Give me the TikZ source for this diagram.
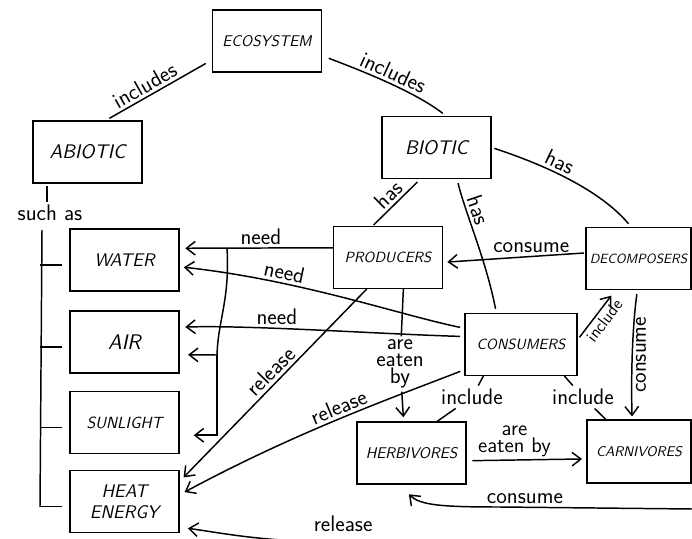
\documentclass[tikz,border=0pt]{standalone}
\usepackage{tikz}
\usetikzlibrary{arrows.meta}

\tikzset{
    concept/.style={draw, inner sep=0pt, minimum width=2.72cm,
        minimum height=1.54cm, align=center,
        font=\sffamily\slshape\fontsize{#1}{#1}\selectfont},
    lbl/.style={inner sep=2pt, align=center,
        font=\sffamily\fontsize{#1}{12}\selectfont},
    lbl/.default=16
}

\begin{document}
\begin{tikzpicture}[x=0.025cm, y=-0.025cm, line width=1.05pt,
    >={Straight Barb[length=2.2mm, width=3.4mm]}]

\useasboundingbox (0,0) rectangle (692,539);
\clip (0,0) rectangle (692,539);

% Concepts
\node[concept=11] (eco) at (267,41) {ECOSYSTEM};
\node[concept=14] (abio) at (87.5,152) {ABIOTIC};
\node[concept=14] (bio) at (436.5,147.5) {BIOTIC};
\node[concept=13] (water) at (124.5,260) {WATER};
\node[concept=15] (air) at (124.5,342) {AIR};
\node[concept=11.5] (sun) at (124.5,422.5) {SUNLIGHT};
\node[concept=13] (heat) at (124.5,501.5) {HEAT\\[2pt]ENERGY};
\node[concept=10.5] (prod) at (388,257.5) {PRODUCERS};
\node[concept=9.5, minimum width=2.62cm] (decomp) at (638.5,258.5) {DECOMPOSERS};
\node[concept=10.5, minimum width=2.8cm] (cons) at (521,344.5) {CONSUMERS};
\node[concept=11] (herb) at (411.5,453) {HERBIVORES};
\node[concept=10, minimum width=2.6cm, minimum height=1.575cm] (carn) at (639,451.5) {CARNIVORES};

% Ecosystem includes
\draw[shorten <=5pt, shorten >=3pt] (eco.-161)
    -- node[lbl, sloped, above, pos=0.58] {includes} (abio.60);
\draw[shorten <=5pt, shorten >=3pt] (eco.-15)
    .. controls (365,72) and (415,92) ..
    node[lbl, sloped, above, pos=0.5] {includes} (bio.73);

% Abiotic such as
\node[lbl] (such) at (50,213) {such as};
\draw[shorten <=2pt] (abio.-142) -- (abio.-142 |- such.north);
\coordinate (brtop) at (42,230);
\coordinate (brbot) at (40,507);
\draw (brtop) -- (brbot);
\foreach \b in {water,air,sun,heat}
    \draw ([shift={(-7,5)}]\b.west) -- ++(-22,0);

% Biotic has
\draw[shorten <=3pt, shorten >=1pt] (bio.-117)
    -- node[lbl, sloped, above] {has} (prod.116);
\draw[shorten <=3pt, shorten >=3pt] (bio.-57)
    .. controls (466,215) and (486,260) ..
    node[lbl, sloped, above, pos=0.3] {has} (cons.128);
\draw[shorten <=2pt, shorten >=3pt] (bio.east)
    .. controls (545,165) and (600,190) ..
    node[lbl, sloped, above, pos=0.4] {has} (decomp.103);

% Producers need
\draw[->, shorten >=4pt] (prod.170)
    -- node[lbl, above, pos=0.47] {need} (water.12);
\coordinate (split) at (227,248);
\coordinate (fork) at (217,355);
\draw (split) .. controls (230,300) and (218,320) .. (fork);
\draw[->, shorten >=6pt] (fork) -- (air.-13);
\draw[->, shorten >=10pt] (fork) |- (sun.-13);

% Consumers need
\draw[->, shorten <=3pt, shorten >=3pt] (cons.164)
    .. controls (400,315) and (300,280) ..
    node[lbl, sloped, above, pos=0.7] {need} (water.-7);
\draw[->, shorten <=3pt, shorten >=4pt] (cons.172)
    .. controls (380,334) and (250,325) ..
    node[lbl, above, pos=0.63] {need} (air.15);

% Release heat energy
\draw[->, shorten >=4pt] (prod.-124)
    -- node[lbl, sloped, above, pos=0.47] {release} (heat.20);
\draw[->, shorten <=3pt, shorten >=4pt] (cons.-156)
    .. controls (400,395) and (300,430) ..
    node[lbl, sloped, above, pos=0.5] {release} (heat.7);
\coordinate (relR) at (692,541);
\draw[->, shorten >=6pt] (relR)
    -- node[lbl, above=4pt, pos=0.89] {release} (300,541)
    .. controls (250,539) and (215,532) .. (heat.-25);

% Producers are eaten by herbivores
\node[lbl] (eat1) at (400,364) {are\\eaten\\by};
\draw (prod.-64) -- (eat1);
\draw[->, shorten >=3pt] (eat1) -- (herb.104);

% Decomposers consume
\draw[->, shorten <=1pt, shorten >=3pt] (decomp.174)
    -- node[lbl, above, pos=0.38] {consume} (prod.-5);
\draw[->, shorten <=3pt, shorten >=2pt] (decomp.-92)
    .. controls (632,330) and (631,380) ..
    node[lbl, midway, anchor=north, rotate=90] {consume} (carn.102);

% Consumers include
\draw[->, shorten <=2pt, shorten >=5pt] (cons.5)
    -- node[lbl=12, sloped, below, pos=0.5] {include} (decomp.-126);
\node[lbl] (incH) at (472,397) {include};
\draw (cons.-140) -- (incH);
\draw (incH) -- (herb.51);
\node[lbl] (incC) at (583,397) {include};
\draw (cons.-36) -- (incC);
\draw (incC) -- (carn.136);

% Herbivores are eaten by carnivores
\draw[->, shorten <=4pt, shorten >=3pt] (herb.-8)
    -- node[lbl=15, above, pos=0.4] {are\\eaten by} (carn.188);

% Carnivores consume herbivores
\coordinate (carnR) at (692,509);
\draw[->, shorten >=10pt] (carnR)
    -- node[lbl, above, pos=0.87] {consume} (500,507)
    .. controls (440,507) and (420,505) .. (herb.-112);

\end{tikzpicture}
\end{document}
